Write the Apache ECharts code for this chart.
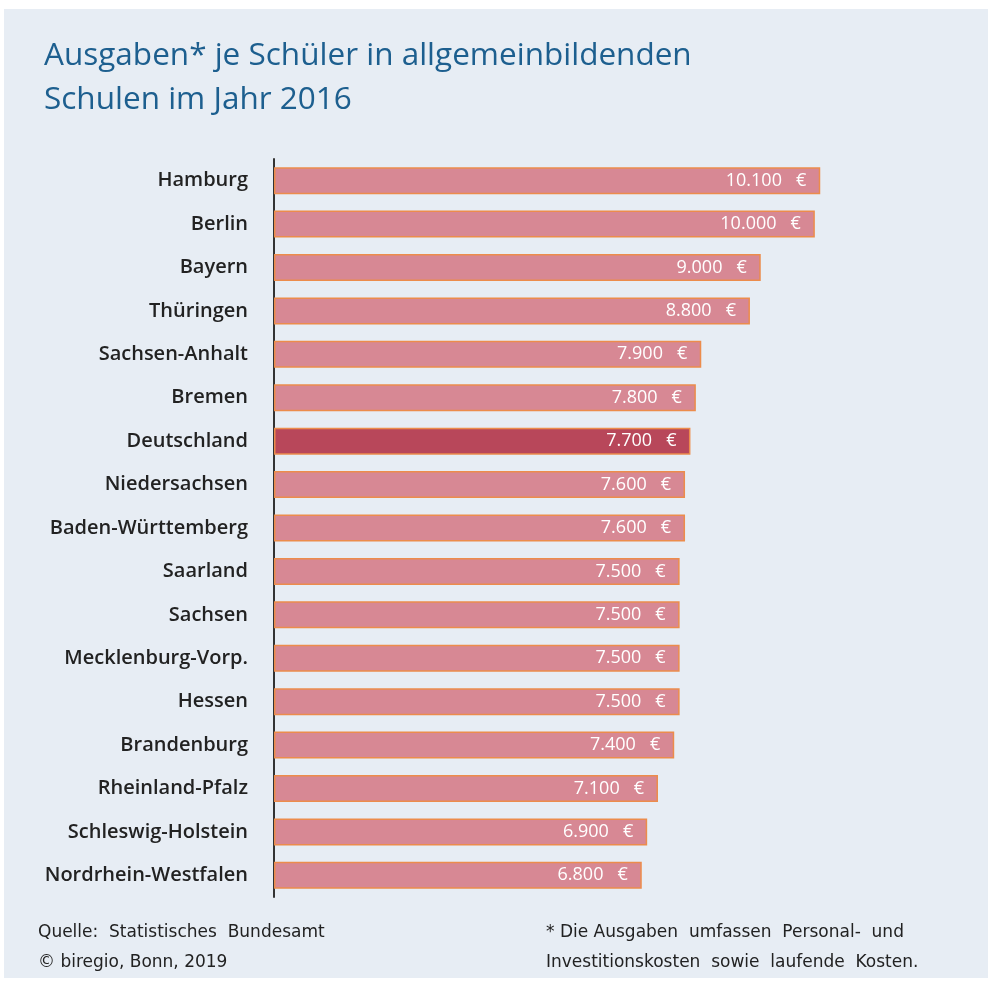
<!DOCTYPE html>
<html>
<head>
<meta charset="utf-8">
<script src="https://cdn.jsdelivr.net/npm/echarts@6/dist/echarts.min.js"></script>
<style>
  html, body { margin: 0; padding: 0; background: #fff; }
  #chart { width: 990px; height: 981px; }
</style>
</head>
<body>
<div id="chart"></div>
<script>
// Bundesländer, von oben nach unten
const laender = [
  'Hamburg', 'Berlin', 'Bayern', 'Thüringen', 'Sachsen-Anhalt', 'Bremen',
  'Deutschland', 'Niedersachsen', 'Baden-Württemberg', 'Saarland', 'Sachsen',
  'Mecklenburg-Vorp.', 'Hessen', 'Brandenburg', 'Rheinland-Pfalz',
  'Schleswig-Holstein', 'Nordrhein-Westfalen'
]
// Ausgaben je Schüler in Euro
const ausgaben = [
  10100, 10000, 9000, 8800, 7900, 7800,
  7700, 7600, 7600, 7500, 7500,
  7500, 7500, 7400, 7100,
  6900, 6800
]
const highlight = 'Deutschland'

const font = '"Open Sans", sans-serif'
const noteFont = '"DejaVu Sans", sans-serif'

const chart = echarts.init(document.getElementById('chart'))

// Zahl im deutschen Format: 10.100
function fmt(v) {
  return String(v).replace(/\B(?=(\d{3})+(?!\d))/g, '.')
}

chart.setOption({
  backgroundColor: '#ffffff',
  animation: false,
  graphic: [
    {
      type: 'rect',
      z: -10,
      shape: { x: 4, y: 9, width: 984, height: 969 },
      style: { fill: '#e7edf4' }
    },
    {
      type: 'text',
      left: 44,
      top: 34,
      style: {
        text: 'Ausgaben* je Schüler in allgemeinbildenden\nSchulen im Jahr 2016',
        fill: '#1d5f8f',
        font: '500 31.5px ' + font,
        lineHeight: 44
      }
    },
    {
      type: 'text',
      left: 38,
      top: 918,
      style: {
        text: 'Quelle:  Statistisches  Bundesamt\n© biregio, Bonn, 2019',
        fill: '#222',
        font: '17px ' + noteFont,
        lineHeight: 30
      }
    },
    {
      type: 'text',
      left: 546,
      top: 918,
      style: {
        text: '* Die Ausgaben  umfassen  Personal-  und\nInvestitionskosten  sowie  laufende  Kosten.',
        fill: '#222',
        font: '17px ' + noteFont,
        lineHeight: 30
      }
    }
  ],
  grid: {
    left: 274,
    top: 159,
    width: 649,
    height: 738,
    containLabel: false
  },
  xAxis: {
    type: 'value',
    min: 0,
    max: 12000,
    show: false
  },
  yAxis: {
    type: 'category',
    inverse: true,
    data: laender,
    axisLine: { show: true, lineStyle: { color: '#333', width: 2 } },
    axisTick: { show: false },
    axisLabel: {
      margin: 26,
      color: '#222',
      fontSize: 20,
      fontWeight: 600,
      fontFamily: font
    }
  },
  series: [{
    type: 'bar',
    barWidth: 27,
    data: ausgaben.map((v, i) => ({
      value: v,
      itemStyle: {
        color: laender[i] === highlight ? '#b8475a' : '#d78894'
      }
    })),
    itemStyle: {
      borderColor: '#ec8c4c',
      borderWidth: 1.5
    },
    label: {
      show: true,
      position: 'insideRight',
      distance: 14,
      color: '#fff',
      fontSize: 18,
      fontFamily: font,
      formatter: p => fmt(p.value) + '   €'
    }
  }]
})
</script>
</body>
</html>
